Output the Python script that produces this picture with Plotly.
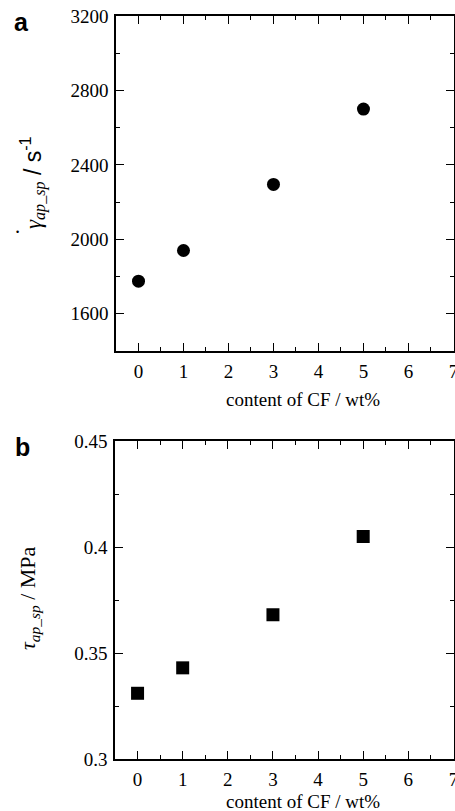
import plotly.graph_objects as go

# ---- data ----
cf_content = [0, 1, 3, 5]
shear_rate = [1775, 1940, 2295, 2700]          # panel a, s^-1
shear_stress = [0.331, 0.343, 0.368, 0.405]    # panel b, MPa
x_tickvals = [0, 1, 2, 3, 4, 5, 6, 7]
ya_tickvals = [1600, 2000, 2400, 2800, 3200]
yb_tickvals = [0.3, 0.35, 0.4, 0.45]
yb_ticktext = ["0.3", "0.35", "0.4", "0.45"]

W, H = 455, 811


def px(x):
    return x / W


def py(y):
    return 1 - y / H


SERIF = "Liberation Serif, Times New Roman, serif"
SANS = "Liberation Sans, Arial, sans-serif"

fig = go.Figure()
fig.add_trace(go.Scatter(x=cf_content, y=shear_rate, mode="markers",
                         marker=dict(symbol="circle", size=13, color="black"),
                         xaxis="x", yaxis="y", showlegend=False))
fig.add_trace(go.Scatter(x=cf_content, y=shear_stress, mode="markers",
                         marker=dict(symbol="square", size=13, color="black"),
                         xaxis="x2", yaxis="y2", showlegend=False))


def axis(**kw):
    d = dict(showline=True, linecolor="black", linewidth=1.5, mirror="allticks",
             ticks="inside", ticklen=8, tickwidth=1.2, tickcolor="black",
             showgrid=False, zeroline=False, ticklabeloverflow="allow", automargin=False,
             tickfont=dict(family=SERIF, size=19, color="black"))
    d.update(kw)
    return d


minor_x = dict(ticks="inside", ticklen=4, tickwidth=1.2, tickcolor="black", dtick=0.5, tick0=0, showgrid=False)

fig.update_layout(
    width=W, height=H,
    margin=dict(l=0, r=0, t=0, b=0, autoexpand=False),
    paper_bgcolor="white", plot_bgcolor="white",
    xaxis=axis(domain=[px(116), px(453.5)], range=[-0.5, 7.001], anchor="y",
               tickvals=x_tickvals, ticklabelstandoff=2, minor=minor_x),
    yaxis=axis(domain=[py(351), py(16)], range=[1400, 3200], anchor="x",
               tickvals=ya_tickvals, ticklabelstandoff=2,
               minor=dict(ticks="inside", ticklen=4, tickwidth=1.2, tickcolor="black", dtick=200, tick0=1400, showgrid=False)),
    xaxis2=axis(domain=[px(115), px(453.5)], range=[-0.5, 7.001], anchor="y2",
                tickvals=x_tickvals, ticklabelstandoff=2, minor=minor_x),
    yaxis2=axis(domain=[py(759), py(441)], range=[0.3, 0.45], anchor="x2",
                tickvals=yb_tickvals, ticktext=yb_ticktext, ticklabelstandoff=2,
                minor=dict(ticks="inside", ticklen=4, tickwidth=1.2, tickcolor="black", dtick=0.025, tick0=0.3, showgrid=False)),
)

ann = []
ann.append(dict(text="<b>a</b>", x=px(12), y=py(22), xanchor="left", yanchor="middle",
                font=dict(family=SANS, size=25, color="black")))
ann.append(dict(text="<b>b</b>", x=px(13), y=py(447), xanchor="left", yanchor="middle",
                font=dict(family=SANS, size=25, color="black")))
ann.append(dict(text="<i>γ</i><sub><i>ap_sp</i></sub><span style='font-family:Liberation Sans, Arial'> / s<sup>-1</sup></span>",
                x=px(33), y=py(183), xanchor="center", yanchor="middle", textangle=-90,
                font=dict(family=SERIF, size=23, color="black")))
ann.append(dict(text="•", x=px(17), y=py(232), xanchor="center", yanchor="middle",
                font=dict(family=SANS, size=9, color="black")))
ann.append(dict(text="content of CF / wt%", x=px(303), y=py(400), xanchor="center", yanchor="middle",
                font=dict(family=SERIF, size=19, color="black")))
ann.append(dict(text="<i>τ</i><sub><i>ap_sp</i></sub> / MPa",
                x=px(29), y=py(598), xanchor="center", yanchor="middle", textangle=-90,
                font=dict(family=SERIF, size=22, color="black")))
ann.append(dict(text="content of CF / wt%", x=px(303), y=py(801), xanchor="center", yanchor="middle",
                font=dict(family=SERIF, size=19, color="black")))
for a in ann:
    a.update(xref="paper", yref="paper", showarrow=False)
fig.update_layout(annotations=ann)

fig.write_html("out.html", config={"displayModeBar": False},
               post_script="document.body.style.margin='0';")
